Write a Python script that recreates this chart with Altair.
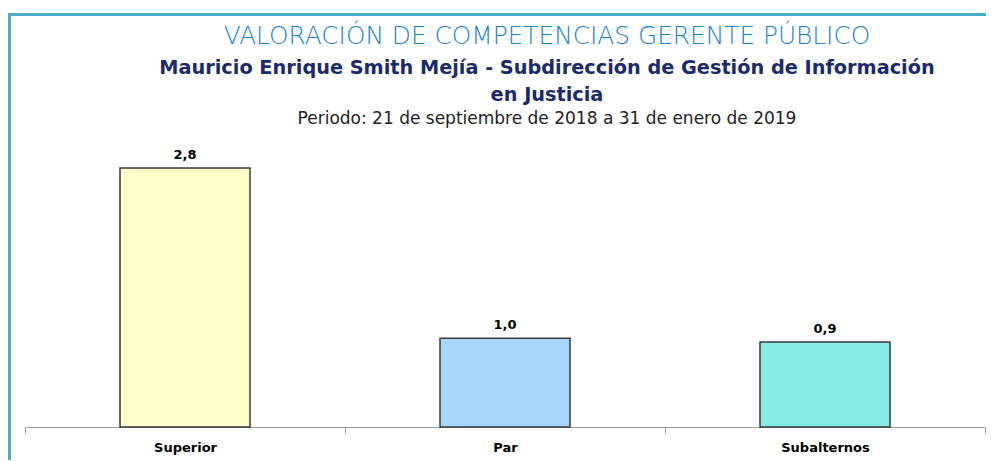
import altair as alt
import pandas as pd

categories = ["Superior", "Par", "Subalternos"]
values = [2.8, 0.96, 0.92]
value_labels = ["2,8", "1,0", "0,9"]
bar_colors = ["#FFFFCC", "#A7D6FB", "#86EAE6"]

title_text = ["VALORACIÓN DE COMPETENCIAS GERENTE PÚBLICO"]
subtitle_line1 = ["Mauricio Enrique Smith Mejía - Subdirección de Gestión de Información"]
subtitle_line2 = ["en Justicia"]
period_text = ["Periodo: 21 de septiembre de 2018 a 31 de enero de 2019"]

FONT = "DejaVu Sans"
df = pd.DataFrame({"cat": categories, "val": values, "lab": value_labels, "col": bar_colors})

W = 960
H = 277.5
CX = W / 2 + 42

x = alt.X("cat:N", sort=categories, title=None,
          scale=alt.Scale(paddingInner=0, paddingOuter=0),
          axis=alt.Axis(labelAngle=0, labelFont=FONT, labelFontWeight="bold", labelFontSize=13,
                        labelColor="#000000", labelPadding=8, domainColor="#9E9E9E", tickColor="#9E9E9E",
                        tickSize=6, tickBand="extent", domainWidth=1))
y = alt.Y("val:Q", scale=alt.Scale(domain=[0, 3]), axis=None)

bars = alt.Chart(df).mark_bar(size=130, stroke="#3A3A3A", strokeWidth=1.5).encode(
    x=x, y=y, color=alt.Color("col:N", scale=None)
)
texts = alt.Chart(df).mark_text(dy=-13, font=FONT, fontWeight="bold", fontSize=13, color="#000000").encode(
    x=alt.X("cat:N", sort=categories), y=y, text="lab:N"
)


def header(lines, yv, size, weight, color):
    return alt.Chart(pd.DataFrame({"t": lines})).mark_text(
        font=FONT, fontSize=size, fontWeight=weight, color=color, baseline="middle", align="center"
    ).encode(x=alt.value(CX), y=alt.value(yv), text="t:N")


h_title = header(title_text, -113, 24.8, 200, "#1A82D2")
h_sub1 = header(subtitle_line1, -82, 19.3, "bold", "#1B2A6B")
h_sub2 = header(subtitle_line2, -55, 19.3, "bold", "#1B2A6B")
h_period = header(period_text, -31, 17, "normal", "#222222")

frame_top = alt.Chart(pd.DataFrame({"t": [0]})).mark_rule(color="#4BACC6", strokeWidth=3).encode(
    x=alt.value(-20), x2=alt.value(W + 20), y=alt.value(-135)
)
frame_left = alt.Chart(pd.DataFrame({"t": [0]})).mark_rule(color="#4BACC6", strokeWidth=3).encode(
    x=alt.value(-15.5), y=alt.value(-136.5), y2=alt.value(H + 40)
)

chart = alt.layer(frame_top, frame_left, bars, texts, h_title, h_sub1, h_sub2, h_period).properties(
    width=W, height=H,
    autosize=alt.AutoSizeParams(type="none"),
    padding={"left": 17, "top": 141.5, "right": 1, "bottom": 33},
    background="#FFFFFF",
).configure_view(stroke="transparent", strokeWidth=0)

chart.save("out.html", embed_options={"renderer": "svg", "actions": False})
